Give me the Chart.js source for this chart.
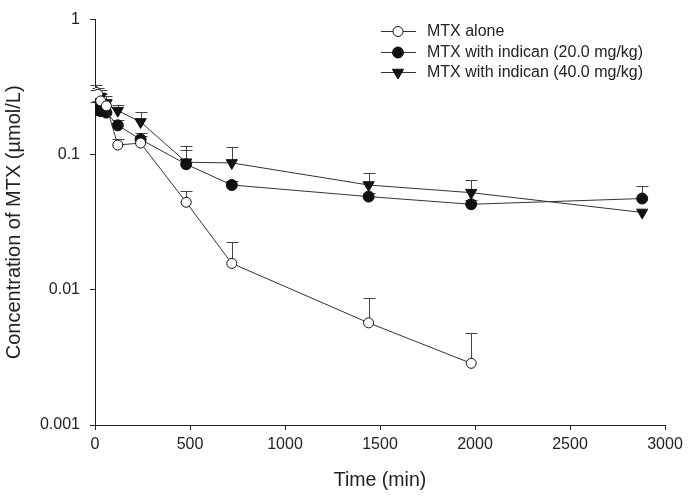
<!DOCTYPE html>
<html>
<head>
<meta charset="utf-8">
<style>
html,body{margin:0;padding:0;background:#fff;}
#wrap{position:relative;width:691px;height:501px;}
</style>
<script src="https://cdn.jsdelivr.net/npm/chart.js@4.4.0/dist/chart.umd.min.js"></script>
</head>
<body>
<div id="wrap"><canvas id="c" width="691" height="501"></canvas></div>
<script>
// ---- data ----
const times = [5, 15, 30, 60, 120, 240, 480, 720, 1440, 1980, 2880];
const mtxAlone     = [0.29, 0.28, 0.25, 0.23, 0.118, 0.122, 0.0445, 0.0157, 0.0057, 0.00286, null];
const mtxAloneErr  = [0.04, 0.03, 0.03, 0.03, 0.012, 0.016, 0.009, 0.0068, 0.003, 0.0019, null];
const indican20    = [0.215, 0.22, 0.21, 0.205, 0.165, 0.130, 0.085, 0.0597, 0.049, 0.043, 0.0474];
const indican20Err = [0.03, 0.03, 0.03, 0.02, 0.015, 0.016, 0.023, 0.004, 0.003, 0.003, 0.011];
const indican40    = [0.25, 0.26, 0.27, 0.24, 0.212, 0.175, 0.088, 0.087, 0.0597, 0.0524, 0.0374];
const indican40Err = [0.05, 0.04, 0.03, 0.03, 0.02, 0.033, 0.028, 0.027, 0.014, 0.013, 0];
const seriesNames  = ['MTX alone', 'MTX with indican (20.0 mg/kg)', 'MTX with indican (40.0 mg/kg)'];
const xTickValues  = [0, 500, 1000, 1500, 2000, 2500, 3000];
const yTickValues  = [0.001, 0.01, 0.1, 1];
const yTickLabels  = ['0.001', '0.01', '0.1', '1'];
const xTitle = 'Time (min)';
const yTitle = 'Concentration of MTX (\u00b5mol/L)';

const FONT = "'Liberation Sans', Arial, Helvetica, sans-serif";
const INK = '#222';
const LINE = '#333';

function pts(vals){ return times.map((t,i)=> vals[i]==null ? null : {x:t, y:vals[i]}).filter(p=>p); }

const styles = [
  {pointStyle:'circle', radius:5, bg:'#fff', rot:0},
  {pointStyle:'circle', radius:5.5, bg:'#111', rot:0},
  {pointStyle:'triangle', radius:6.5, bg:'#111', rot:180}
];
const values = [mtxAlone, indican20, indican40];
const errs = [mtxAloneErr, indican20Err, indican40Err];

const datasets = values.map((v,i)=>({
  label: seriesNames[i],
  data: pts(v),
  borderColor: LINE,
  borderWidth: 1,
  pointStyle: styles[i].pointStyle,
  pointRotation: styles[i].rot,
  pointRadius: styles[i].radius,
  pointHoverRadius: styles[i].radius,
  pointBackgroundColor: styles[i].bg,
  pointBorderColor: '#111',
  pointBorderWidth: 1,
  fill: false,
  tension: 0
}));

const errorBars = {
  id: 'errorBars',
  beforeDatasetsDraw(chart){
    const {ctx, scales:{x, y}} = chart;
    ctx.save();
    ctx.strokeStyle = '#444';
    ctx.lineWidth = 1;
    errs.forEach((e,si)=>{
      times.forEach((t,i)=>{
        const v = values[si][i];
        if (v==null || !e[i]) return;
        const px = Math.round(x.getPixelForValue(t)) + 0.5;
        const py = y.getPixelForValue(v);
        const pt = Math.round(y.getPixelForValue(v + e[i])) + 0.5;
        ctx.beginPath();
        ctx.moveTo(px, py);
        ctx.lineTo(px, pt);
        ctx.moveTo(px - 6, pt);
        ctx.lineTo(px + 6, pt);
        ctx.stroke();
      });
    });
    ctx.restore();
  }
};

const customLegend = {
  id: 'customLegend',
  afterDraw(chart){
    const ctx = chart.ctx;
    const x0 = 381, x1 = 416, mx = 398, tx = 427;
    const ys = [31, 52, 72];
    ctx.save();
    ys.forEach((yy,i)=>{
      const cy = yy + 0.5;
      ctx.strokeStyle = LINE; ctx.lineWidth = 1;
      ctx.beginPath(); ctx.moveTo(x0, cy); ctx.lineTo(x1, cy); ctx.stroke();
      ctx.fillStyle = styles[i].bg; ctx.strokeStyle = '#111';
      ctx.beginPath();
      if (styles[i].pointStyle === 'circle') { ctx.arc(mx, cy, styles[i].radius, 0, Math.PI*2); }
      else {
        const r = styles[i].radius;
        ctx.moveTo(mx, cy + r);
        ctx.lineTo(mx - r*Math.sin(Math.PI/3), cy - r/2);
        ctx.lineTo(mx + r*Math.sin(Math.PI/3), cy - r/2);
        ctx.closePath();
      }
      ctx.fill(); ctx.stroke();
      ctx.fillStyle = INK;
      ctx.font = '16px ' + FONT;
      ctx.textBaseline = 'middle';
      ctx.textAlign = 'left';
      ctx.fillText(seriesNames[i], tx, yy + 1);
    });
    ctx.restore();
  }
};

new Chart(document.getElementById('c'), {
  type: 'line',
  data: { datasets },
  plugins: [errorBars, customLegend],
  options: {
    responsive: false,
    animation: false,
    events: [],
    layout: { padding: { top: 15, right: 26, bottom: 0, left: 0 } },
    plugins: { legend: { display: false }, tooltip: { enabled: false } },
    scales: {
      x: {
        type: 'linear', min: 0, max: 3000,
        afterBuildTicks: s => { s.ticks = xTickValues.map(v=>({value:v})); },
        afterFit: s => { s.height = 76; },
        border: { display: true, color: INK, width: 1 },
        grid: { display: true, drawOnChartArea: false, drawTicks: true, tickLength: 5, color: INK },
        ticks: { color: INK, font: { family: FONT, size: 16 }, padding: 5, maxRotation: 0, callback: v => String(v) },
        title: { display: true, text: xTitle, color: INK, font: { family: FONT, size: 19.5 }, padding: { top: 0, bottom: 9 } }
      },
      y: {
        type: 'logarithmic', min: 0.001, max: 1,
        afterBuildTicks: s => { s.ticks = yTickValues.map(v=>({value:v, major:true})); },
        afterFit: s => { s.width = 95; },
        border: { display: true, color: INK, width: 1 },
        grid: { display: true, drawOnChartArea: false, drawTicks: true, tickLength: 5, color: INK },
        ticks: { color: INK, font: { family: FONT, size: 16 }, padding: 10,
          callback: v => { const k = yTickValues.indexOf(v); return k >= 0 ? yTickLabels[k] : ''; } },
        title: { display: true, text: yTitle, color: INK, font: { family: FONT, size: 20 }, padding: { top: 2, bottom: 0 } }
      }
    }
  }
});
</script>
</body>
</html>
